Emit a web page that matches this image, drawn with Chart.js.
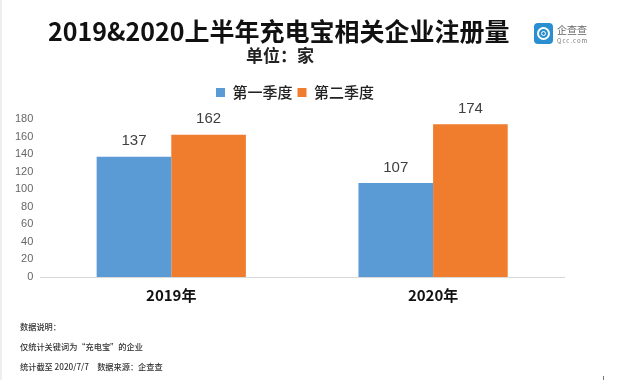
<!DOCTYPE html>
<html>
<head>
<meta charset="utf-8">
<script src="https://cdn.jsdelivr.net/npm/chart.js@4/dist/chart.umd.min.js"></script>
<style>
  html, body { margin: 0; padding: 0; background: #fff; }
  body { width: 640px; height: 380px; position: relative; overflow: hidden; font-family: "Noto Sans CJK SC", sans-serif; }
  #edge { position: absolute; left: 0; top: 0; width: 2px; height: 380px; background: #eeeeee; }
  #corner { position: absolute; left: 603px; top: 376px; width: 1px; height: 4px; background: #777; }
  #wrap { position: absolute; left: 0; top: 0; width: 640px; height: 380px; }
  .txt { position: absolute; white-space: nowrap; color: #111; }
  #title { left: 48px; top: 12px; font-size: 25px; font-weight: 700; line-height: 36px; }
  #unit { left: 246px; top: 43px; font-size: 17px; font-weight: 700; line-height: 24px; color: #222; }
  .note { left: 20px; font-size: 8.2px; line-height: 12px; color: #333; font-weight: 500; }
  #logoBox { position: absolute; left: 534px; top: 23px; width: 19px; height: 21px; background: #2a8fd0; border-radius: 4px; }
  #logoBox div { position: absolute; left: 3px; top: 4px; width: 9px; height: 9px; border: 2px solid #fff; border-radius: 50%; }
  #logoBox div div { left: 1.5px; top: 1.5px; width: 3px; height: 3px; border: 1px solid #fff; }
  #logoCn { left: 557px; top: 23px; font-size: 10px; line-height: 13px; color: #666; }
  #logoEn { left: 557px; top: 37px; font-size: 6px; line-height: 8px; color: #777; letter-spacing: 1px; }
</style>
</head>
<body>
<div id="edge"></div>
<div id="corner"></div>
<div id="wrap"><canvas id="chart" width="640" height="380"></canvas></div>
<div class="txt" id="title">2019&amp;2020上半年充电宝相关企业注册量</div>
<div class="txt" id="unit">单位：家</div>
<div id="logoBox"><div><div></div></div></div>
<div class="txt" id="logoCn">企查查</div>
<div class="txt" id="logoEn">Qcc.com</div>
<div class="txt note" style="top:320px">数据说明：</div>
<div class="txt note" style="top:340px">仅统计关键词为“充电宝”的企业</div>
<div class="txt note" style="top:360px">统计截至 2020/7/7　数据来源：企查查</div>
<script>
const categories = ['2019年', '2020年'];
const q1Values = [137, 107];
const q2Values = [162, 174];
const yTicks = [0, 20, 40, 60, 80, 100, 120, 140, 160, 180];

// 棒の上に値を描く
const valueLabels = {
  id: 'valueLabels',
  afterDatasetsDraw(chart) {
    const ctx = chart.ctx;
    ctx.save();
    ctx.font = '15px "Liberation Sans", sans-serif';
    ctx.fillStyle = '#404040';
    ctx.textAlign = 'center';
    ctx.textBaseline = 'bottom';
    chart.data.datasets.forEach((ds, i) => {
      chart.getDatasetMeta(i).data.forEach((bar, j) => {
        ctx.fillText(ds.data[j], bar.x, bar.y - 8);
      });
    });
    ctx.restore();
  }
};

// 凡例だけ少しずらす
const moveLegend = {
  id: 'moveLegend',
  afterLayout(chart) {
    const lg = chart.legend;
    lg.left += 9;
    lg.right += 9;
    lg.top -= 9;
    lg.bottom -= 9;
  }
};

new Chart(document.getElementById('chart').getContext('2d'), {
  type: 'bar',
  data: {
    labels: categories,
    datasets: [
      { label: '第一季度', data: q1Values, backgroundColor: '#5B9BD5', categoryPercentage: 0.57, barPercentage: 1 },
      { label: '第二季度', data: q2Values, backgroundColor: '#F07D2E', categoryPercentage: 0.57, barPercentage: 1 }
    ]
  },
  options: {
    responsive: false,
    animation: false,
    layout: { padding: { left: 8, right: 76, top: 89, bottom: 67 } },
    plugins: {
      tooltip: { enabled: false },
      legend: {
        position: 'top',
        labels: {
          boxWidth: 9,
          boxHeight: 9,
          padding: 5,
          color: '#222',
          font: { family: '"Noto Sans CJK SC", sans-serif', size: 15, weight: '500' }
        }
      }
    },
    scales: {
      x: {
        grid: { display: false, drawTicks: false },
        border: { color: '#d9d9d9' },
        ticks: {
          padding: 9,
          color: '#111',
          font: { family: '"Noto Sans CJK SC", sans-serif', size: 15, weight: '700' }
        }
      },
      y: {
        min: 0,
        max: 180,
        afterBuildTicks(scale) { scale.ticks = yTicks.map(v => ({ value: v })); },
        grid: { display: false, drawTicks: false },
        border: { display: false },
        ticks: {
          padding: 7,
          color: '#666',
          font: { family: '"Liberation Sans", sans-serif', size: 11 }
        }
      }
    }
  },
  plugins: [valueLabels, moveLegend]
});
</script>
</body>
</html>
